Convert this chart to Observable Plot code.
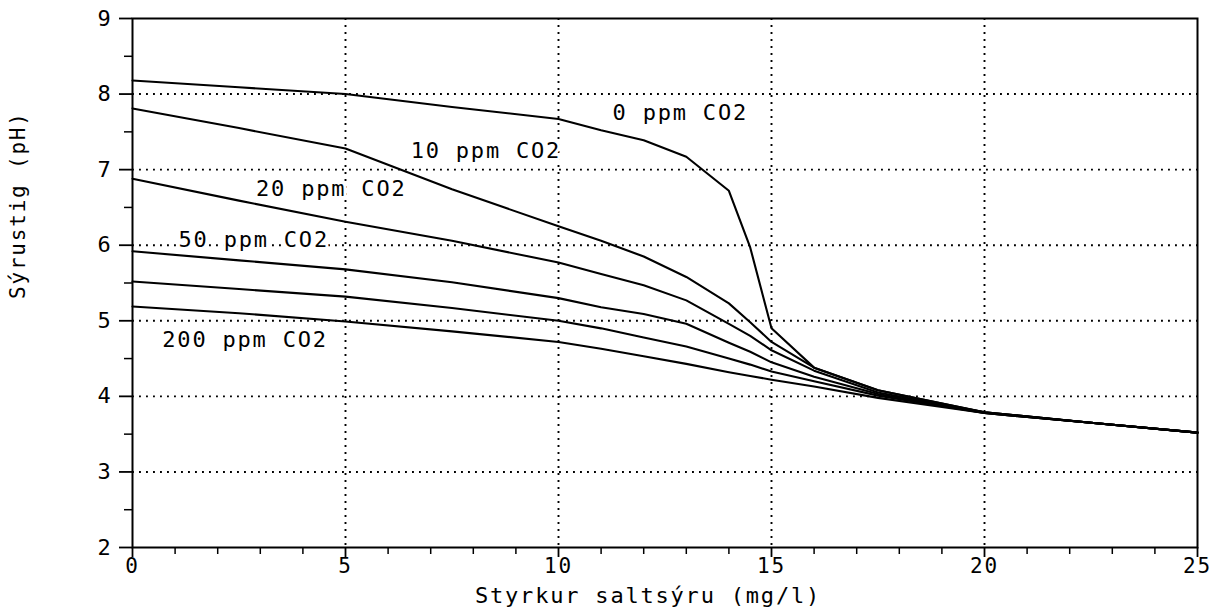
<!DOCTYPE html>
<html>
<head>
<meta charset="utf-8">
<script src="https://cdn.jsdelivr.net/npm/d3@7"></script>
<script src="https://cdn.jsdelivr.net/npm/@observablehq/plot@0.6"></script>
<style>
  body { margin: 0; background: #fff; }
  svg text { letter-spacing: 1.8px; }
</style>
</head>
<body>
<div id="chart"></div>
<script>
// HCl concentration (mg/l)
const xs = [0, 2.5, 5, 7.5, 10, 11, 12, 13, 14, 14.5, 15, 16, 17.5, 20, 22.5, 25];
// pH for each CO2 level
const ph0   = [8.18, 8.09, 8.00, 7.83, 7.67, 7.52, 7.39, 7.17, 6.72, 5.97, 4.90, 4.38, 4.08, 3.79, 3.65, 3.52];
const ph10  = [7.81, 7.55, 7.28, 6.74, 6.25, 6.06, 5.85, 5.58, 5.23, 4.98, 4.72, 4.38, 4.08, 3.79, 3.65, 3.52];
const ph20  = [6.88, 6.59, 6.31, 6.06, 5.77, 5.62, 5.47, 5.27, 4.96, 4.80, 4.61, 4.34, 4.05, 3.79, 3.65, 3.52];
const ph50  = [5.92, 5.80, 5.68, 5.51, 5.30, 5.18, 5.09, 4.96, 4.71, 4.59, 4.45, 4.26, 4.03, 3.78, 3.65, 3.52];
const ph100 = [5.52, 5.42, 5.32, 5.17, 5.00, 4.90, 4.78, 4.66, 4.50, 4.42, 4.33, 4.20, 4.01, 3.78, 3.65, 3.52];
const ph200 = [5.19, 5.10, 4.99, 4.86, 4.72, 4.63, 4.53, 4.43, 4.32, 4.27, 4.22, 4.13, 3.98, 3.78, 3.65, 3.52];
const seriesNames = ["0 ppm", "10 ppm", "20 ppm", "50 ppm", "100 ppm", "200 ppm"];
const seriesValues = [ph0, ph10, ph20, ph50, ph100, ph200];

// curve labels
const labelText = ["0 ppm CO2", "10 ppm CO2", "20 ppm CO2", "50 ppm CO2", "200 ppm CO2"];
const labelX = [11.27, 6.53, 2.90, 1.08, 0.70];
const labelY = [7.75, 7.25, 6.75, 6.07, 4.74];

// ticks
const xMajor = [0, 5, 10, 15, 20, 25];
const xMinor = d3.range(0, 26).filter(d => d % 5 !== 0);
const yMajor = [2, 3, 4, 5, 6, 7, 8, 9];
const yMinor = [2.5, 3.5, 4.5, 5.5, 6.5, 7.5, 8.5];
const xGrid = [5, 10, 15, 20];
const yGrid = [3, 4, 5, 6, 7, 8];

const xTitle = "Styrkur saltsýru (mg/l)";
const yTitle = "Sýrustig (pH)";

const data = [];
seriesNames.forEach((name, s) => xs.forEach((x, i) => data.push({series: name, x, y: seriesValues[s][i]})));

const dotted = {stroke: "black", strokeOpacity: 1, strokeWidth: 1.9, strokeDasharray: "1.9,5.1"};

const chart = Plot.plot({
  width: 1219,
  height: 607,
  marginLeft: 132,
  marginRight: 22,
  marginTop: 18,
  marginBottom: 60,
  x: {domain: [0, 25]},
  y: {domain: [2, 9]},
  style: {fontFamily: "DejaVu Sans Mono", background: "white", color: "black"},
  marks: [
    Plot.gridX(xGrid, dotted),
    Plot.gridY(yGrid, dotted),
    Plot.text(labelText, {
      x: (d, i) => labelX[i], y: (d, i) => labelY[i], text: d => d,
      textAnchor: "start", lineAnchor: "middle", fontSize: 22,
      fill: "black", stroke: "white", strokeWidth: 6, paintOrder: "stroke"
    }),
    Plot.line(data, {x: "x", y: "y", z: "series", stroke: "black", strokeWidth: 2.1}),
    Plot.axisY(yMajor, {tickSize: 13, tickPadding: 7, fontSize: 22, label: null, tickFormat: d => String(d), strokeWidth: 1.8}),
    Plot.axisY(yMinor, {tickSize: 8, tickFormat: () => "", label: null, strokeWidth: 1.5}),
    Plot.axisX(xMajor, {tickSize: 10, tickPadding: 1, fontSize: 21, label: null, tickFormat: d => String(d), strokeWidth: 1.8}),
    Plot.axisX(xMinor, {tickSize: 7, tickFormat: () => "", label: null, strokeWidth: 1.5}),
    Plot.frame({stroke: "black", strokeWidth: 2}),
    Plot.text([xTitle], {text: d => d, frameAnchor: "bottom", dx: -17, dy: 48, fontSize: 22, lineAnchor: "middle", fill: "black"}),
    Plot.text([yTitle], {text: d => d, frameAnchor: "left", dx: -114, dy: 16, rotate: -90, fontSize: 21, lineAnchor: "middle", fill: "black"})
  ]
});
document.getElementById("chart").append(chart);
</script>
</body>
</html>
